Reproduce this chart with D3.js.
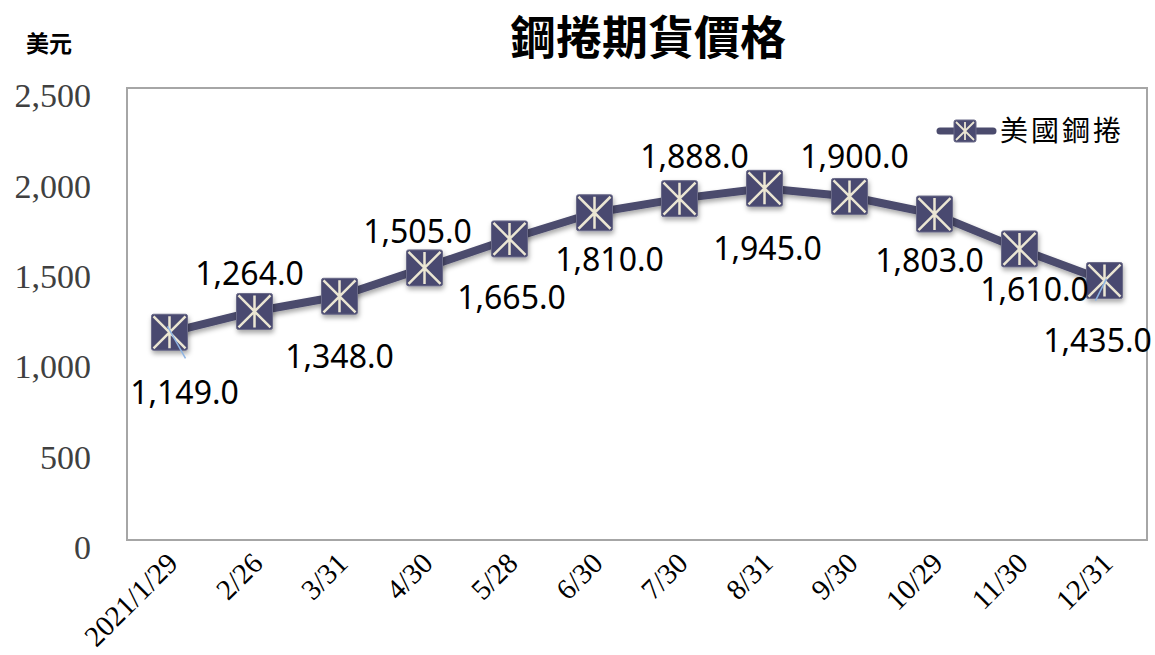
<!DOCTYPE html>
<meta charset="utf-8">
<style>
body { margin: 0; background: #fff; }
.ytick text { font-family: "Liberation Serif", "DejaVu Serif", serif; font-size: 34px; fill: #404040; }
.xtick text { font-family: "Liberation Serif", "DejaVu Serif", serif; font-size: 29px; fill: #000; }
.vlabel { font-family: "Noto Sans", "Open Sans", sans-serif; font-size: 32px; fill: #000; }
</style>
<svg width="1155" height="655"></svg>
<script src="https://d3js.org/d3.v7.min.js"></script>
<script>

var dates = ["2021/1/29", "2/26", "3/31", "4/30", "5/28", "6/30", "7/30", "8/31", "9/30", "10/29", "11/30", "12/31"];
var prices = [1149, 1264, 1348, 1505, 1665, 1810, 1888, 1945, 1900, 1803, 1610, 1435];
var yTicks = [0, 500, 1000, 1500, 2000, 2500];
// label offset from point (dx, dy) as in the original chart
var labelPos = [[15, 60], [-5, -38], [0, 60], [-7, -36], [2, 59], [15, 47], [15, -42], [3, 60], [5, -40], [-5, 46], [15, 41], [-7, 60]];

var svg = d3.select("svg");
var pLeft = 127, pRight = 1147, pTop = 88, pBottom = 540;

var x = d3.scaleBand().domain(dates).range([pLeft, pRight]);
var y = d3.scaleLinear().domain([0, 2500]).range([pBottom, pTop]);
var cx = function(d) { return x(d) + x.bandwidth() / 2; };

var defs = svg.append("defs");
var f = defs.append("filter").attr("id", "shadow").attr("x", "-50%").attr("y", "-50%").attr("width", "200%").attr("height", "200%");
f.append("feDropShadow").attr("dx", 1).attr("dy", 3).attr("stdDeviation", 2.5).attr("flood-color", "#000").attr("flood-opacity", 0.35);

// title and unit
svg.append("text").attr("x", 648).attr("y", 54).attr("text-anchor", "middle")
  .style("font-family", "'Noto Sans CJK TC', sans-serif").style("font-size", "46px").style("font-weight", "bold")
  .text("鋼捲期貨價格");
svg.append("text").attr("x", 49).attr("y", 52).attr("text-anchor", "middle")
  .style("font-family", "'Noto Sans CJK TC', sans-serif").style("font-size", "23px").style("font-weight", "bold")
  .text("美元");

// plot frame
svg.append("rect").attr("x", pLeft).attr("y", pTop).attr("width", pRight - pLeft).attr("height", pBottom - pTop)
  .attr("fill", "none").attr("stroke", "#a6a6a6").attr("stroke-width", 2);

// y axis
var yAxis = svg.append("g").attr("class", "ytick").attr("transform", "translate(" + pLeft + ",0)")
  .call(d3.axisLeft(y).tickValues(yTicks).tickSize(0).tickPadding(36).tickFormat(d3.format(",")));
yAxis.select(".domain").remove();
yAxis.selectAll("text").attr("dy", "0.55em");

// x axis
var xAxis = svg.append("g").attr("class", "xtick").attr("transform", "translate(0," + pBottom + ")")
  .call(d3.axisBottom(x).tickSize(0).tickFormat(function(d) { return d; }));
xAxis.select(".domain").remove();
xAxis.selectAll("text")
  .attr("text-anchor", "end")
  .attr("y", 0).attr("dy", 0)
  .attr("transform", "translate(10,25) rotate(-45)");

// line
var data = dates.map(function(d, i) { return { date: d, value: prices[i] }; });
var line = d3.line().x(function(d) { return cx(d.date); }).y(function(d) { return y(d.value); });
svg.append("path").datum(data).attr("d", line)
  .attr("fill", "none").attr("stroke", "#4b4b6d").attr("stroke-width", 8).attr("stroke-linejoin", "round")
  .attr("filter", "url(#shadow)");

function marker(g, s) {
  g.append("rect").attr("x", -s / 2).attr("y", -s / 2).attr("width", s).attr("height", s).attr("rx", 2)
    .attr("fill", "#4a4a70").attr("stroke", "#6a6a88").attr("stroke-width", 1);
  var h = s / 2 - 2;
  g.append("path").attr("d", "M" + (-h) + "," + (-h) + "L" + h + "," + h + "M" + h + "," + (-h) + "L" + (-h) + "," + h + "M0," + (-h) + "L0," + h)
    .attr("stroke", "#ebe6d3").attr("stroke-width", s > 30 ? 2.5 : 1.8);
}

var pts = svg.append("g").selectAll("g").data(data).enter().append("g")
  .attr("transform", function(d) { return "translate(" + cx(d.date) + "," + y(d.value) + ")"; })
  .attr("filter", "url(#shadow)");
pts.each(function() { marker(d3.select(this), 36); });

// leader lines for first and last labels
svg.append("line").attr("x1", cx(dates[0]) - 2).attr("y1", y(prices[0]) - 6)
  .attr("x2", cx(dates[0]) + 16).attr("y2", y(prices[0]) + 26).attr("stroke", "#8eb4e3").attr("stroke-width", 1.5);
svg.append("line").attr("x1", cx(dates[11]) + 2).attr("y1", y(prices[11]) - 2)
  .attr("x2", cx(dates[11]) - 9).attr("y2", y(prices[11]) + 20).attr("stroke", "#8eb4e3").attr("stroke-width", 1.5);

// value labels
svg.append("g").selectAll("text").data(data).enter().append("text")
  .attr("class", "vlabel")
  .attr("text-anchor", "middle")
  .attr("x", function(d, i) { return cx(d.date) + labelPos[i][0]; })
  .attr("y", function(d, i) { return y(d.value) + labelPos[i][1]; })
  .attr("dy", "0.36em")
  .text(function(d) { return d3.format(",.1f")(d.value); });

// legend
var lg = svg.append("g").attr("transform", "translate(965,131)");
lg.append("line").attr("x1", -25).attr("x2", 28).attr("stroke", "#4b4b6d").attr("stroke-width", 7).attr("stroke-linecap", "round");
marker(lg, 22);
lg.append("text").attr("x", 35).attr("y", 0).attr("dy", "0.36em")
  .style("font-family", "'Noto Sans CJK TC', sans-serif").style("font-size", "28px").style("letter-spacing", "3px")
  .text("美國鋼捲");

</script>
